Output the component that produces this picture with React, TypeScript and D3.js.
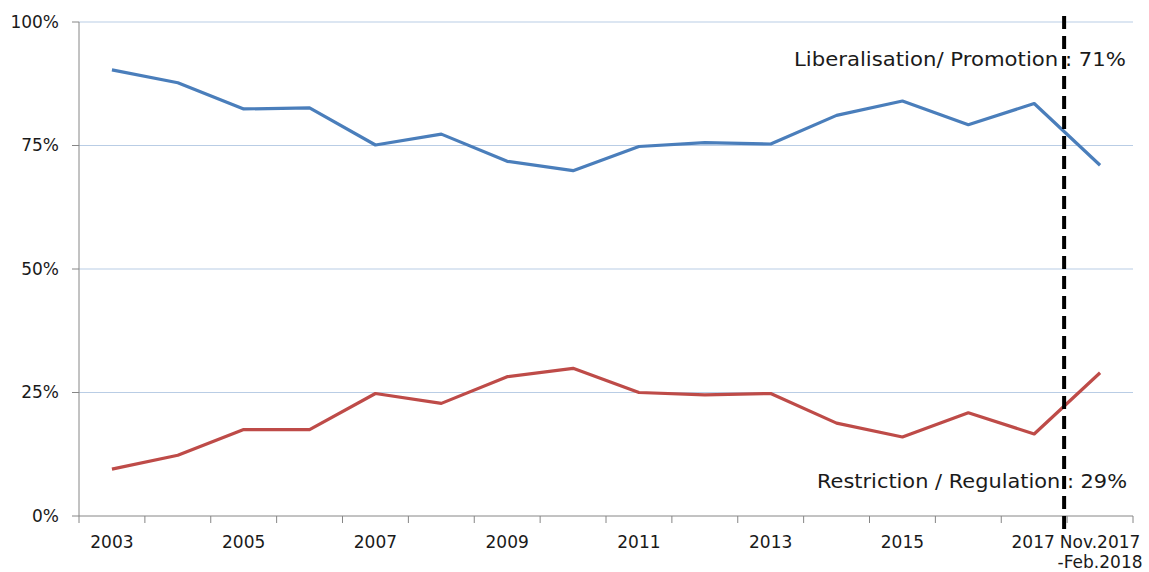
import * as d3 from "d3";

const W = 1149;
const H = 572;
const MARGIN = { top: 22, right: 16, bottom: 56, left: 79 };

const categories = [
  "2003", "2004", "2005", "2006", "2007", "2008", "2009", "2010",
  "2011", "2012", "2013", "2014", "2015", "2016", "2017", "Nov.2017-Feb.2018",
];
// every other category gets a label
const tickLabels: Record<string, string[]> = {
  "2003": ["2003"],
  "2005": ["2005"],
  "2007": ["2007"],
  "2009": ["2009"],
  "2011": ["2011"],
  "2013": ["2013"],
  "2015": ["2015"],
  "2017": ["2017"],
  "Nov.2017-Feb.2018": ["Nov.2017", "-Feb.2018"],
};
const liberalisation = [90.3, 87.7, 82.4, 82.6, 75.1, 77.3, 71.8, 69.9, 74.8, 75.6, 75.3, 81.1, 84.0, 79.2, 83.5, 71.0];
const restriction = [9.5, 12.3, 17.5, 17.5, 24.8, 22.8, 28.2, 29.9, 25.0, 24.5, 24.8, 18.8, 16.0, 20.9, 16.6, 29.0];
const yTicks = [0, 25, 50, 75, 100];

const FONT = "'DejaVu Sans', sans-serif";

export default function App() {
  const x0 = MARGIN.left;
  const x1 = W - MARGIN.right;
  const y0 = H - MARGIN.bottom;
  const y1 = MARGIN.top;

  const x = d3.scaleBand<string>().domain(categories).range([x0, x1]);
  const y = d3.scaleLinear().domain([0, 100]).range([y0, y1]);
  const cx = (c: string) => (x(c) ?? 0) + x.bandwidth() / 2;

  const line = d3
    .line<number>()
    .x((_, i) => cx(categories[i]))
    .y((d) => y(d));

  const boundaries = categories.map((c) => x(c) ?? 0).concat([x1]);
  const splitX = (x(categories[categories.length - 1]) ?? 0) - 3;

  return (
    <svg width={W} height={H} style={{ position: "absolute", left: 0, top: 0, background: "#fff" }}>
      {/* gridlines */}
      {yTicks.filter((t) => t > 0).map((t) => (
        <line key={t} x1={x0} x2={x1} y1={y(t)} y2={y(t)} stroke="#B9CDE5" strokeWidth={1} />
      ))}
      {/* y axis */}
      <line x1={x0} x2={x0} y1={y1} y2={y0} stroke="#868686" strokeWidth={1} />
      {yTicks.map((t) => (
        <g key={t}>
          <line x1={x0 - 7} x2={x0} y1={y(t)} y2={y(t)} stroke="#868686" />
          <text x={x0 - 20} y={y(t)} dy="0.35em" textAnchor="end" fontFamily={FONT} fontSize={17} fill="#1a1a1a">
            {t}%
          </text>
        </g>
      ))}
      {/* x axis */}
      <line x1={x0} x2={x1} y1={y0} y2={y0} stroke="#868686" strokeWidth={1} />
      {boundaries.map((b, i) => (
        <line key={i} x1={b} x2={b} y1={y0} y2={y0 + 7} stroke="#868686" />
      ))}
      {categories.map((c) =>
        tickLabels[c] ? (
          <text key={c} y={y0 + 32} textAnchor="middle" fontFamily={FONT} fontSize={17} fill="#1a1a1a">
            {tickLabels[c].map((s, i) => (
              <tspan key={i} x={cx(c) + (c === "2017" ? -1 : 0)} dy={i === 0 ? 0 : 20}>
                {s}
              </tspan>
            ))}
          </text>
        ) : null
      )}
      {/* series */}
      <path d={line(liberalisation) ?? ""} fill="none" stroke="#4A7EBB" strokeWidth={3.2} strokeLinejoin="round" />
      <path d={line(restriction) ?? ""} fill="none" stroke="#BE4B48" strokeWidth={3.2} strokeLinejoin="round" />
      {/* split marker */}
      <line x1={splitX} x2={splitX} y1={16} y2={y0 + 14} stroke="#000" strokeWidth={4} strokeDasharray="13 7" />
      {/* annotations */}
      <text x={1126} y={66} textAnchor="end" fontFamily={FONT} fontSize={19} fill="#1a1a1a"
        textLength={332} lengthAdjust="spacingAndGlyphs">
        Liberalisation/ Promotion : 71%
      </text>
      <text x={1127} y={488} textAnchor="end" fontFamily={FONT} fontSize={19} fill="#1a1a1a"
        textLength={310} lengthAdjust="spacingAndGlyphs">
        Restriction / Regulation : 29%
      </text>
    </svg>
  );
}
